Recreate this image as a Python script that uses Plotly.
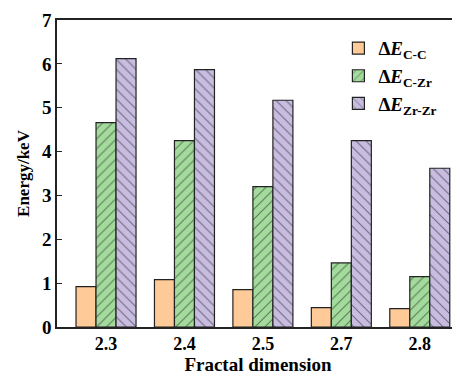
import plotly.graph_objects as go

categories = ["2.3", "2.4", "2.5", "2.7", "2.8"]
e_cc = [0.92, 1.08, 0.85, 0.44, 0.42]
e_czr = [4.66, 4.25, 3.20, 1.46, 1.15]
e_zrzr = [6.12, 5.87, 5.17, 4.25, 3.62]
series_names = ["<b>Δ<i>E</i><sub>C-C</sub></b>", "<b>Δ<i>E</i><sub>C-Zr</sub></b>", "<b>Δ<i>E</i><sub>Zr-Zr</sub></b>"]

font_family = "'Times New Roman', 'Liberation Serif', 'DejaVu Serif', serif"
line = dict(color="#222222", width=1.2)

fig = go.Figure()
fig.add_trace(go.Bar(x=categories, y=e_cc, name=series_names[0],
                     marker=dict(color="#FDCA98", line=line)))
fig.add_trace(go.Bar(x=categories, y=e_czr, name=series_names[1],
                     marker=dict(color="#A3DB9C", line=line,
                                 pattern=dict(shape="/", fgcolor="#111111", size=7, solidity=0.15))))
fig.add_trace(go.Bar(x=categories, y=e_zrzr, name=series_names[2],
                     marker=dict(color="#C8BDE0", line=line,
                                 pattern=dict(shape="\\", fgcolor="#111111", size=7, solidity=0.15))))

fig.update_layout(
    width=452, height=370,
    margin=dict(l=49, r=1, t=12, b=51),
    paper_bgcolor="white", plot_bgcolor="white",
    barmode="group", bargap=0.235, bargroupgap=0,
    font=dict(family=font_family, color="black"),
    showlegend=True,
    legend=dict(x=0.70, y=0.97, xanchor="left", yanchor="top",
                bgcolor="rgba(0,0,0,0)", font=dict(size=19, family=font_family),
                tracegroupgap=0, itemwidth=30),
    xaxis=dict(
        type="category", range=[-0.625, 4.5], automargin=False,
        showline=True, linecolor="#222222", linewidth=1.5, mirror=True,
        ticks="", tickfont=dict(size=18, family=font_family, weight="bold"),
        title=dict(text="Fractal dimension", font=dict(size=19, family=font_family, weight="bold"), standoff=2),
    ),
    yaxis=dict(
        range=[0, 7], dtick=1, showgrid=False, zeroline=False, automargin=False,
        showline=True, linecolor="#222222", linewidth=1.5, mirror=False,
        ticks="inside", ticklen=5, tickcolor="#222222",
        tickfont=dict(size=19, family=font_family, weight="bold"),
        title=dict(text="Energy/keV", font=dict(size=17, family=font_family, weight="bold"), standoff=8),
    ),
    shapes=[dict(type="line", xref="paper", yref="paper", x0=1, x1=1, y0=0, y1=1,
                 line=dict(color="#BBBBBB", width=1))],
)

fig.write_html("out.html")
